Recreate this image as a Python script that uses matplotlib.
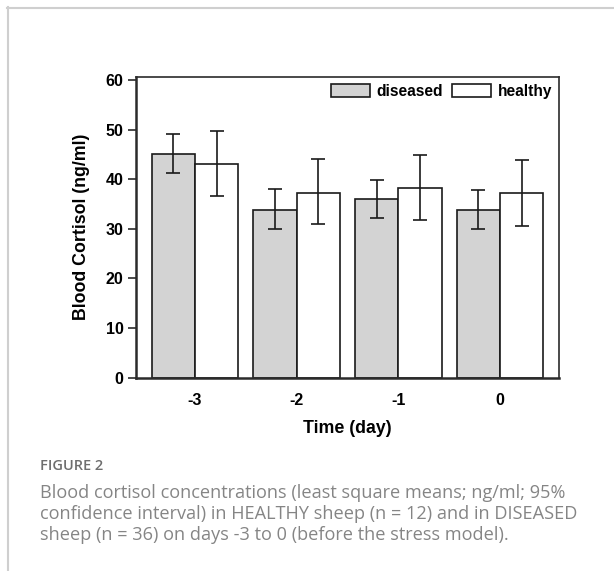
import matplotlib
matplotlib.use("Agg")
import matplotlib.pyplot as plt
import numpy as np
from matplotlib.lines import Line2D

# Werte
days = [-3, -2, -1, 0]
diseased = [45.1, 33.9, 36.0, 33.9]
diseased_lo = [41.2, 30.0, 32.1, 30.0]
diseased_hi = [49.1, 38.0, 39.9, 37.9]
healthy = [43.1, 37.3, 38.3, 37.2]
healthy_lo = [36.6, 30.9, 31.7, 30.6]
healthy_hi = [49.7, 44.0, 44.8, 43.8]

plt.rcParams['font.family'] = ['Liberation Sans', 'DejaVu Sans']

fig = plt.figure(figsize=(6.14, 5.71), dpi=100)
ax = fig.add_axes([136/614, 1-377.7/571, (559-136)/614, (377.7-76.7)/571])

x = np.array(days, dtype=float)
w = 0.426
d = np.array(diseased)
h = np.array(healthy)
d_err = [d - np.array(diseased_lo), np.array(diseased_hi) - d]
h_err = [h - np.array(healthy_lo), np.array(healthy_hi) - h]

ax.bar(x - w/2, d, w, color='#d3d3d3', edgecolor='#1a1a1a', linewidth=1.2,
       label='diseased', zorder=2)
ax.bar(x + w/2, h, w, color='white', edgecolor='#1a1a1a', linewidth=1.2,
       label='healthy', zorder=2)
ax.errorbar(x - w/2, d, yerr=d_err, fmt='none', ecolor='#1a1a1a',
            elinewidth=1.2, capsize=5, capthick=1.2, zorder=3)
ax.errorbar(x + w/2, h, yerr=h_err, fmt='none', ecolor='#1a1a1a',
            elinewidth=1.2, capsize=5, capthick=1.2, zorder=3)

ax.set_xlim(-3.58, 0.58)
ax.set_ylim(0, 60.67)
ax.set_xticks(days)
ax.set_xticklabels([str(v) for v in days])
ax.set_yticks([0, 10, 20, 30, 40, 50, 60])

for s in ['top', 'right']:
    ax.spines[s].set_linewidth(1.2)
    ax.spines[s].set_color('#2b2b2b')
for s in ['left', 'bottom']:
    ax.spines[s].set_linewidth(1.8)
    ax.spines[s].set_color('#2b2b2b')

ax.tick_params(axis='y', direction='out', length=6, width=1.2, color='#2b2b2b',
               labelsize=11.5, pad=3)
ax.tick_params(axis='x', length=0, labelsize=11.5, pad=11)
for lab in ax.get_xticklabels() + ax.get_yticklabels():
    lab.set_fontweight('bold')

ax.set_ylabel('Blood Cortisol (ng/ml)', fontsize=12.8, fontweight='bold', labelpad=11)
ax.set_xlabel('Time (day)', fontsize=12.8, fontweight='bold', labelpad=9)

ax.legend(loc='upper right', bbox_to_anchor=(1.0, 1.0), ncol=2, frameon=False,
          prop={'weight': 'bold', 'size': 11.2}, handlelength=2.5,
          handleheight=0.95, handletextpad=0.4, columnspacing=0.6,
          borderaxespad=0.25, borderpad=0.2)

# grauer Rahmen der Seite
fig.add_artist(Line2D([7/614, 1], [1-7.5/571, 1-7.5/571], transform=fig.transFigure,
                      color='#cfcfcf', linewidth=1.5))
fig.add_artist(Line2D([7.5/614, 7.5/614], [0, 1-7/571], transform=fig.transFigure,
                      color='#cfcfcf', linewidth=1.5))

cap_font = ['Open Sans', 'DejaVu Sans']
fig.text(40/614, 1-470.5/571, 'FIGURE 2', fontsize=10.5, color='#6e6e6e',
         family=cap_font, fontweight='semibold', va='baseline')
lines = ['Blood cortisol concentrations (least square means; ng/ml; 95%',
         'confidence interval) in HEALTHY sheep (n = 12) and in DISEASED',
         'sheep (n = 36) on days -3 to 0 (before the stress model).']
for i, t in enumerate(lines):
    fig.text(40/614, 1-(497.5 + 21.3*i)/571, t, fontsize=13.1, color='#858585',
             family=cap_font, va='baseline')

fig.savefig('out.png', dpi=100)
